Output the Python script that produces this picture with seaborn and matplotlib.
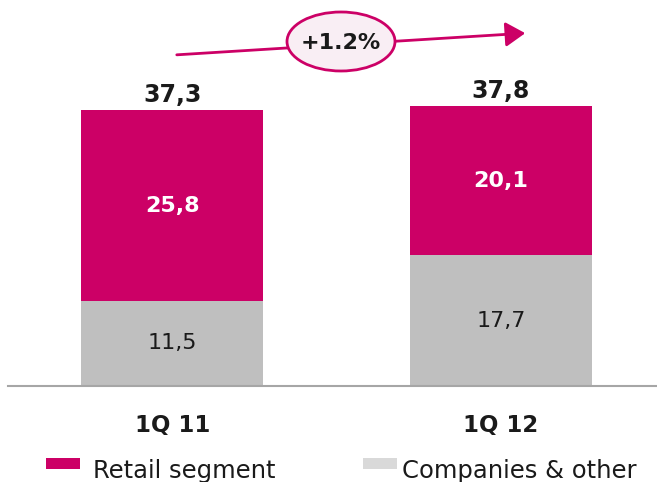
import pandas as pd
import seaborn as sns
import matplotlib.pyplot as plt
from matplotlib.patches import Ellipse, FancyArrowPatch, Rectangle

# chart values
quarters = ['1Q 11', '1Q 12']
retail = [25.8, 20.1]
companies = [11.5, 17.7]
growth_label = '+1.2%'
legend_labels = ['Retail segment', 'Companies & other']

MAGENTA = '#cc0066'
GRAY = '#bfbfbf'
LEGEND_GRAY = '#d9d9d9'


def fmt(v):
    return f"{v:.1f}".replace('.', ',')


df = pd.DataFrame({'quarter': quarters, 'retail': retail, 'companies': companies})
df['total'] = df['retail'] + df['companies']

sns.set_style('white')
plt.rcParams['font.family'] = ['DejaVu Sans']

fig = plt.figure(figsize=(6.57, 4.82), dpi=100)
ax = fig.add_axes([8 / 657, 96 / 482, 649 / 657, 386 / 482])

# stacked bars: total in magenta, companies drawn on top from the base
sns.barplot(data=df, x='quarter', y='total', color=MAGENTA, width=0.555,
            saturation=1, linewidth=0, ax=ax)
sns.barplot(data=df, x='quarter', y='companies', color=GRAY, width=0.555,
            saturation=1, linewidth=0, ax=ax)

ax.set_xlim(-0.5, 1.475)
ax.set_ylim(0, 52.2)
ax.set_xlabel('')
ax.set_ylabel('')
ax.set_yticks([])
for side in ['top', 'left', 'right']:
    ax.spines[side].set_visible(False)
ax.spines['bottom'].set_color('#a6a6a6')
ax.spines['bottom'].set_linewidth(1.5)
ax.tick_params(axis='x', length=0, pad=20, labelsize=16.5)
for lab in ax.get_xticklabels():
    lab.set_fontweight('bold')
    lab.set_color('#1a1a1a')

for i, row in df.iterrows():
    ax.text(i, row['companies'] / 2, fmt(row['companies']), ha='center', va='center',
            fontsize=16, color='#1a1a1a')
    ax.text(i, row['companies'] + row['retail'] / 2, fmt(row['retail']), ha='center',
            va='center', fontsize=16, color='white', fontweight='bold')
    ax.annotate(fmt(row['total']), (i, row['total']), xytext=(0, 6),
                textcoords='offset points', ha='center', va='baseline',
                fontsize=17, fontweight='bold', color='#1a1a1a')

# growth arrow with ellipse badge
arrow = FancyArrowPatch((174 / 657, 1 - 55 / 482), (528 / 657, 1 - 33 / 482),
                        transform=fig.transFigure, arrowstyle='-|>,head_length=8,head_width=5',
                        color=MAGENTA, lw=2, mutation_scale=1.5, zorder=3)
fig.add_artist(arrow)
badge = Ellipse((341 / 657, 1 - 41.5 / 482), 108 / 657, 59 / 482, transform=fig.transFigure,
                facecolor='#f9eef4', edgecolor=MAGENTA, lw=2, zorder=4)
fig.add_artist(badge)
fig.text(341 / 657, 1 - 43 / 482, growth_label, ha='center', va='center', fontsize=16,
         fontweight='bold', color='#1a1a1a', zorder=5)

# legend drawn by hand along the bottom edge
legend_items = [(46, 93, MAGENTA), (363, 402, LEGEND_GRAY)]
for (px, tx, col), label in zip(legend_items, legend_labels):
    fig.add_artist(Rectangle((px / 657, 1 - 469 / 482), 34 / 657, 11 / 482,
                             transform=fig.transFigure, facecolor=col, edgecolor='none'))
    fig.text(tx / 657, 4 / 482, label, ha='left', va='baseline', fontsize=17.5,
             color='#1a1a1a')

fig.savefig('out.png', dpi=100)
